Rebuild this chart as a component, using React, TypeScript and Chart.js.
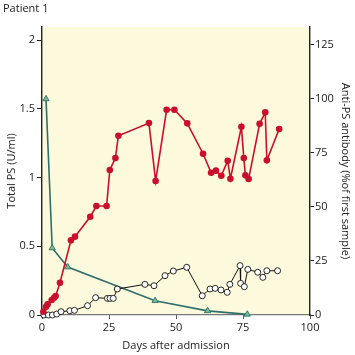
import React, { useEffect, useRef } from "react";
import { Chart, registerables } from "chart.js";

Chart.register(...registerables);

// Red filled circles (Total PS, left axis)
const redDays = [0.5, 1.5, 2.1, 3.6, 4.5, 5.1, 6.7, 10.8, 12.3, 18.0, 20.3, 24.1, 25.3, 27.4, 28.5, 39.9, 42.4, 46.5, 49.4, 54.2, 60.1, 63.1, 64.9, 66.9, 69.3, 70.3, 74.4, 75.3, 75.9, 77.1, 81.2, 83.3, 83.9, 88.5];
const redValues = [0.024, 0.06, 0.078, 0.109, 0.126, 0.138, 0.235, 0.543, 0.57, 0.715, 0.793, 0.793, 1.055, 1.142, 1.304, 1.396, 0.975, 1.493, 1.493, 1.394, 1.173, 1.035, 1.05, 1.013, 1.122, 0.991, 1.369, 1.142, 1.016, 0.989, 1.391, 1.474, 1.125, 1.353];

// Open circles (left axis)
const openDays = [0.7, 2.4, 3.9, 5.5, 7.1, 10.4, 12.1, 17.0, 20.0, 24.4, 25.4, 26.6, 28.1, 38.4, 41.8, 45.9, 49.0, 54.0, 59.8, 62.7, 64.6, 66.8, 69.1, 70.1, 73.9, 74.1, 75.5, 76.8, 80.5, 82.4, 83.9, 87.9];
const openValues = [0, 0, 0, 0.007, 0.024, 0.031, 0.034, 0.068, 0.126, 0.121, 0.121, 0.121, 0.189, 0.223, 0.213, 0.286, 0.32, 0.347, 0.14, 0.189, 0.194, 0.182, 0.165, 0.223, 0.359, 0.23, 0.206, 0.332, 0.311, 0.274, 0.322, 0.322];

// Green triangles (Anti-PS antibody, % of first sample, right axis)
const antiDays = [1.5, 3.8, 9.6, 42.2, 61.8, 76.6];
const antiValues = [100, 31, 22.2, 6.6, 1.9, 0.3];

const xTicks = [0, 25, 50, 75, 100];
const leftTicks = [0, 0.5, 1, 1.5, 2];
const rightTicks = [0, 25, 50, 75, 100, 125];

const FONT = "'Open Sans', 'Noto Sans', sans-serif";
const TEXT = "#222";

const bgPlugin = {
  id: "plotBg",
  beforeDraw(chart: any) {
    const { ctx, chartArea } = chart;
    if (!chartArea) return;
    ctx.save();
    ctx.fillStyle = "#fdf9dc";
    ctx.fillRect(chartArea.left, chartArea.top, chartArea.right - chartArea.left, chartArea.bottom - chartArea.top);
    ctx.restore();
  },
};

const plain = (v: any) => String(v);

export default function App() {
  const ref = useRef<HTMLCanvasElement>(null);
  useEffect(() => {
    if (!ref.current) return;
    const chart = new Chart(ref.current, {
      type: "line",
      data: {
        datasets: [
          {
            label: "Total PS",
            data: redDays.map((d, i) => ({ x: d, y: redValues[i] })),
            yAxisID: "y",
            borderColor: "#c90f2c",
            backgroundColor: "#c90f2c",
            borderWidth: 1.6,
            pointRadius: 3.3,
            pointBorderWidth: 0,
            pointBackgroundColor: "#c90f2c",
            clip: false,
          } as any,
          {
            label: "Open",
            data: openDays.map((d, i) => ({ x: d, y: openValues[i] })),
            yAxisID: "y",
            borderColor: "#111",
            backgroundColor: "#fff",
            borderWidth: 1,
            pointRadius: 3,
            pointBorderWidth: 0.9,
            pointBorderColor: "#111",
            pointBackgroundColor: "#fff",
            clip: false,
          } as any,
          {
            label: "Anti-PS antibody",
            data: antiDays.map((d, i) => ({ x: d, y: antiValues[i] })),
            yAxisID: "y2",
            borderColor: "#2f6e6a",
            backgroundColor: "#72c08e",
            borderWidth: 1.6,
            tension: 0,
            pointStyle: "triangle",
            pointRadius: 3.6,
            pointBorderWidth: 0.9,
            pointBorderColor: "#2f6e6a",
            pointBackgroundColor: "#72c08e",
            clip: false,
          } as any,
        ],
      },
      options: {
        animation: false,
        responsive: false,
        devicePixelRatio: 1,
        layout: { padding: { left: 3, right: 0, top: 0, bottom: 0 } },
        plugins: {
          legend: { display: false },
          tooltip: { enabled: false },
          title: {
            display: true,
            text: "Patient 1",
            align: "start",
            color: TEXT,
            font: { family: FONT, size: 11, weight: "normal" },
            padding: { top: 2, bottom: 11.8 },
          },
        },
        scales: {
          x: {
            type: "linear",
            min: 0,
            max: 100,
            afterBuildTicks: (s: any) => {
              s.ticks = xTicks.map((v) => ({ value: v }));
            },
            afterFit: (s: any) => {
              s.height = 40;
            },
            ticks: { color: TEXT, font: { family: FONT, size: 11 }, padding: 2, maxRotation: 0, callback: plain },
            grid: { display: true, drawOnChartArea: false, drawTicks: true, tickLength: 4, color: "#555" },
            border: { display: true, color: "#777", width: 1.2 },
            title: {
              display: true,
              text: "Days after admission",
              color: TEXT,
              font: { family: FONT, size: 11 },
              padding: { top: 0, bottom: 2.4 },
            },
          },
          y: {
            type: "linear",
            position: "left",
            min: 0,
            max: 2.095,
            afterBuildTicks: (s: any) => {
              s.ticks = leftTicks.map((v) => ({ value: v }));
            },
            afterFit: (s: any) => {
              s.width = 39;
            },
            ticks: { color: TEXT, font: { family: FONT, size: 11 }, padding: 2, callback: plain },
            grid: { display: true, drawOnChartArea: false, drawTicks: true, tickLength: 5, color: "#222" },
            border: { display: true, color: "#222", width: 1.4 },
            title: {
              display: true,
              text: "Total PS (U/ml)",
              color: TEXT,
              font: { family: FONT, size: 11 },
              padding: { top: 2.4, bottom: 0 },
            },
          },
          y2: {
            type: "linear",
            position: "right",
            min: 0,
            max: 133.3,
            afterBuildTicks: (s: any) => {
              s.ticks = rightTicks.map((v) => ({ value: v }));
            },
            afterFit: (s: any) => {
              s.width = 45;
            },
            ticks: { color: TEXT, font: { family: FONT, size: 11 }, padding: 1, callback: plain },
            grid: { display: true, drawOnChartArea: false, drawTicks: true, tickLength: 4, color: "#222" },
            border: { display: true, color: "#222", width: 1.4 },
            title: {
              display: true,
              text: "Anti-PS antibody (%of first sample)",
              color: TEXT,
              font: { family: FONT, size: 11 },
              padding: { top: 3.4, bottom: 0 },
            },
          },
        },
      } as any,
      plugins: [bgPlugin],
    });
    return () => chart.destroy();
  }, []);

  return (
    <div style={{ position: "fixed", left: 0, top: 0, width: 355, height: 355, background: "#fff" }}>
      <canvas ref={ref} width={355} height={355} style={{ width: 355, height: 355, display: "block" }} />
    </div>
  );
}
